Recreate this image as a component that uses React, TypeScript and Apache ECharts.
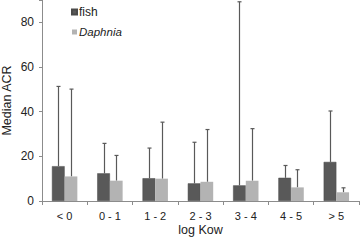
import React, { useEffect, useRef } from "react";
import * as echarts from "echarts";

const categories = ["< 0", "0 - 1", "1 - 2", "2 - 3", "3 - 4", "4 - 5", "> 5"];
const fishMedian = [15.6, 12.4, 10.2, 7.9, 7.0, 10.4, 17.5];
const daphniaMedian = [11.0, 9.1, 10.0, 8.6, 9.1, 6.1, 3.9];
const fishUpper = [51.3, 25.8, 23.7, 26.3, 89.2, 15.9, 40.3];
const daphniaUpper = [50.1, 20.4, 35.3, 32.0, 32.4, 14.0, 5.9];
const yTicks = [0, 20, 40, 60, 80];

const BAR_W = 12.7;

function errorSeries(upper: number[], base: number[], offsetSign: number) {
  return {
    type: "custom",
    silent: true,
    z: 1,
    data: upper.map((u, i) => [i, u, base[i]]),
    renderItem: (params: any, api: any) => {
      const idx = api.value(0);
      const top = api.coord([idx, api.value(1)]);
      const bottom = api.coord([idx, api.value(2)]);
      const x = Math.round(top[0] + (offsetSign * BAR_W) / 2) + 0.5;
      const style = { stroke: "#595959", lineWidth: 1.2 };
      return {
        type: "group",
        children: [
          { type: "line", shape: { x1: x, y1: bottom[1], x2: x, y2: top[1] }, style },
          { type: "line", shape: { x1: x - 2, y1: top[1], x2: x + 2, y2: top[1] }, style },
        ],
      };
    },
  };
}

export default function App() {
  const ref = useRef<HTMLDivElement>(null);
  useEffect(() => {
    if (!ref.current) return;
    const chart = echarts.init(ref.current, undefined, { renderer: "svg" });
    chart.setOption({
      animation: false,
      textStyle: { fontFamily: "Liberation Sans, Arial, sans-serif" },
      grid: { left: 42, right: 1, top: 0, bottom: 39, containLabel: false, outerBoundsMode: "none" },
      legend: {
        left: 71,
        top: 6,
        padding: 0,
        orient: "vertical",
        itemWidth: 5,
        itemHeight: 5,
        itemGap: 8,
        icon: "rect",
        textStyle: { fontSize: 12, lineHeight: 12, color: "#222", padding: [0, 0, 0, -3] },
        formatter: (name: string) => (name === "Daphnia" ? "{i|Daphnia}" : name),
        data: [
          { name: "fish" },
          {
            name: "Daphnia",
            textStyle: {
              rich: { i: { fontStyle: "italic", fontSize: 11.5, lineHeight: 12, color: "#222" } },
            },
          },
        ],
      },
      xAxis: {
        type: "category",
        data: categories,
        name: "log Kow",
        nameLocation: "middle",
        nameMoveOverlap: false,
        nameGap: 22,
        nameTextStyle: { fontSize: 12.5, color: "#222" },
        axisLine: { lineStyle: { color: "#8c8c8c" } },
        axisTick: { show: true, length: 4, lineStyle: { color: "#8c8c8c" } },
        axisLabel: { fontSize: 11, color: "#222", margin: 9 },
      },
      yAxis: {
        type: "value",
        min: 0,
        max: 90,
        interval: 20,
        name: "Median ACR",
        nameLocation: "middle",
        nameMoveOverlap: false,
        nameGap: 29,
        nameTextStyle: { fontSize: 12.5, color: "#222" },
        axisLine: { show: true, lineStyle: { color: "#8c8c8c" } },
        axisTick: { show: true, length: 3, lineStyle: { color: "#8c8c8c" } },
        axisLabel: {
          fontSize: 12,
          color: "#222",
          margin: 8,
          formatter: (v: number) => (yTicks.includes(v) ? String(v) : ""),
        },
        splitLine: { show: false },
      },
      series: [
        {
          name: "fish",
          type: "bar",
          data: fishMedian,
          barWidth: BAR_W,
          barGap: "0%",
          itemStyle: { color: "#595959", borderColor: "#4a4a4a", borderWidth: 0.5 },
          z: 2,
        },
        {
          name: "Daphnia",
          type: "bar",
          data: daphniaMedian,
          barWidth: BAR_W,
          barGap: "0%",
          itemStyle: { color: "#b3b3b3" },
          z: 2,
        },
        errorSeries(fishUpper, fishMedian, -1),
        errorSeries(daphniaUpper, daphniaMedian, 1),
      ],
    });
    return () => chart.dispose();
  }, []);
  return <div ref={ref} style={{ width: 360, height: 240, position: "absolute", left: 0, top: 0 }} />;
}
